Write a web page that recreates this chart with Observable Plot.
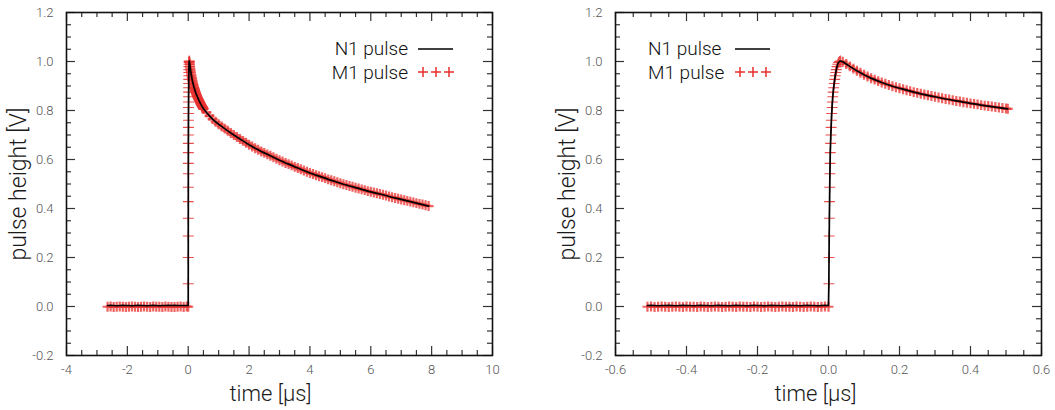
<!DOCTYPE html>
<html>
<head>
<meta charset="utf-8">
<script src="https://cdn.jsdelivr.net/npm/d3@7"></script>
<script src="https://cdn.jsdelivr.net/npm/@observablehq/plot@0.6"></script>
<style>
  body { margin: 0; background: #fff; }
  #wrap { position: relative; width: 1055px; height: 410px; display: flex; font-family: Roboto, "Liberation Sans", sans-serif; }
  #wrap > svg.leg { position: absolute; left: 0; top: 0; pointer-events: none; }
</style>
</head>
<body>
<div id="wrap"></div>
<script>
// ---------------- data (time in µs, pulse height in V) ----------------
// baseline before the pulse: N1 (black line) and M1 (red markers)
const baseT = [-2.65,-2.55,-2.45,-2.35,-2.25,-2.15,-2.05,-1.95,-1.85,-1.75,-1.65,-1.55,-1.45,-1.35,-1.25,-1.15,-1.05,-0.95,-0.85,-0.75,-0.65,-0.55,
  -0.51,-0.50,-0.49,-0.48,-0.47,-0.46,-0.45,-0.44,-0.43,-0.42,-0.41,-0.40,-0.39,-0.38,-0.37,-0.36,-0.35,-0.34,-0.33,-0.32,-0.31,-0.30,
  -0.29,-0.28,-0.27,-0.26,-0.25,-0.24,-0.23,-0.22,-0.21,-0.20,-0.19,-0.18,-0.17,-0.16,-0.15,-0.14,-0.13,-0.12,-0.11,-0.10,
  -0.09,-0.08,-0.07,-0.06,-0.05,-0.04,-0.03,-0.02,-0.01,0.00];
const baseN1 = [0.004,0.005,0.004,0.003,0.004,0.005,0.004,0.004,0.003,0.004,0.005,0.004,0.004,0.003,0.004,0.005,0.004,0.003,0.004,0.004,0.005,0.004,
  0.004,0.005,0.004,0.003,0.004,0.004,0.005,0.004,0.003,0.004,0.005,0.004,0.004,0.003,0.004,0.005,0.004,0.004,0.003,0.004,0.005,0.004,
  0.004,0.003,0.004,0.005,0.004,0.004,0.003,0.004,0.005,0.004,0.004,0.003,0.004,0.005,0.004,0.004,0.003,0.004,0.005,0.004,
  0.004,0.003,0.004,0.005,0.004,0.004,0.003,0.004,0.005,0.004];
const baseM1 = [-0.001,0.000,-0.002,-0.001,0.000,-0.001,-0.002,-0.001,0.000,-0.001,-0.002,-0.001,0.000,-0.001,-0.002,0.000,-0.001,-0.001,-0.002,0.000,-0.001,-0.002,
  -0.001,0.000,-0.002,-0.001,0.000,-0.001,-0.002,-0.001,0.000,-0.001,-0.002,0.000,-0.001,-0.001,-0.002,0.000,-0.001,-0.002,-0.001,0.000,-0.001,-0.002,
  -0.001,0.000,-0.001,-0.002,0.000,-0.001,-0.001,-0.002,0.000,-0.001,-0.002,-0.001,0.000,-0.001,-0.002,-0.001,0.000,-0.001,-0.001,-0.002,
  0.000,-0.001,-0.002,-0.001,0.000,-0.001,-0.002,-0.001,0.000,-0.001];
// leading edge (both pulses coincide)
const riseT = [0.0010,0.0015,0.0020,0.0025,0.0030,0.0035,0.0040,0.0045,0.0050,0.0058,0.0066,0.0074,0.0082,0.0090,0.0100,
  0.0110,0.0120,0.0132,0.0145,0.0160,0.0175,0.0190,0.0205,0.0220,0.0240,0.0260,0.0285,0.0310,0.0340];
const riseV = [0.093,0.200,0.288,0.360,0.428,0.487,0.542,0.584,0.628,0.666,0.700,0.731,0.760,0.788,0.812,
  0.835,0.856,0.875,0.893,0.910,0.927,0.942,0.955,0.967,0.979,0.989,0.996,1.000,1.002];
// tail (both pulses coincide)
const decayT = [0.04,0.05,0.06,0.07,0.08,0.09,0.10,0.11,0.12,0.13,0.14,0.15,0.16,0.17,0.18,0.19,0.20,0.21,0.22,0.23,0.24,0.25,
  0.26,0.27,0.28,0.29,0.30,0.31,0.32,0.33,0.34,0.35,0.36,0.37,0.38,0.39,0.40,0.41,0.42,0.43,0.44,0.45,0.46,0.47,0.48,0.49,0.50,0.505,
  0.6,0.7,0.8,0.9,1.0,1.1,1.2,1.3,1.4,1.5,1.6,1.7,1.8,1.9,2.0,2.1,2.2,2.3,2.4,2.5,2.6,2.7,2.8,2.9,3.0,3.1,3.2,3.3,3.4,3.5,3.6,3.7,3.8,3.9,
  4.0,4.1,4.2,4.3,4.4,4.5,4.6,4.7,4.8,4.9,5.0,5.1,5.2,5.3,5.4,5.5,5.6,5.7,5.8,5.9,6.0,6.1,6.2,6.3,6.4,6.5,6.6,6.7,6.8,6.9,
  7.0,7.1,7.2,7.3,7.4,7.5,7.6,7.7,7.8,7.9];
const decayV = [0.999,0.990,0.980,0.971,0.962,0.954,0.946,0.939,0.932,0.926,0.920,0.914,0.909,0.904,0.899,0.895,0.891,0.887,0.883,0.879,0.875,0.872,
  0.868,0.865,0.862,0.859,0.856,0.853,0.850,0.847,0.845,0.842,0.839,0.837,0.834,0.832,0.829,0.827,0.825,0.822,0.820,0.818,0.816,0.814,0.812,0.810,0.808,0.807,
  0.792,0.778,0.765,0.754,0.744,0.735,0.726,0.717,0.708,0.700,0.692,0.684,0.676,0.668,0.660,0.653,0.646,0.640,0.633,0.627,0.621,0.615,0.609,0.603,
  0.597,0.592,0.586,0.581,0.576,0.570,0.565,0.560,0.555,0.550,0.545,0.541,0.536,0.532,0.528,0.524,0.519,0.515,0.511,0.507,
  0.503,0.499,0.496,0.492,0.489,0.485,0.482,0.478,0.475,0.471,0.468,0.465,0.462,0.459,0.456,0.453,0.449,0.446,0.443,0.440,
  0.437,0.434,0.431,0.428,0.425,0.422,0.419,0.416,0.413,0.410];

// axes
const yMajor = [-0.2,0,0.2,0.4,0.6,0.8,1.0,1.2];
const yMinor = [-0.15,-0.1,-0.05,0.05,0.1,0.15,0.25,0.3,0.35,0.45,0.5,0.55,0.65,0.7,0.75,0.85,0.9,0.95,1.05,1.1,1.15];
const leftXMajor = [-4,-2,0,2,4,6,8,10];
const leftXMinor = [-3.5,-3,-2.5,-1.5,-1,-0.5,0.5,1,1.5,2.5,3,3.5,4.5,5,5.5,6.5,7,7.5,8.5,9,9.5];
const rightXMajor = [-0.6,-0.4,-0.2,0,0.2,0.4,0.6];
const rightXMinor = [-0.55,-0.5,-0.45,-0.35,-0.3,-0.25,-0.15,-0.1,-0.05,0.05,0.1,0.15,0.25,0.3,0.35,0.45,0.5,0.55];
const xTitle = "time [µs]";
const yTitle = "pulse height [V]";
const seriesNames = ["N1 pulse", "M1 pulse"];

// table built from the arrays
const rows = [];
baseT.forEach((t, i) => rows.push({t, n1: baseN1[i], m1: baseM1[i], part: "base"}));
riseT.forEach((t, i) => rows.push({t, n1: riseV[i], m1: riseV[i], part: "rise"}));
decayT.forEach((t, i) => rows.push({t, n1: decayV[i], m1: decayV[i], part: "tail"}));

// the wide view uses the baseline on its coarse (0.1 µs) grid only
const coarse = d => d.part !== "base" || d.t < -0.52 || d.t === 0 || Math.abs(Math.round(d.t * 100)) % 10 === 5;

const H = 410, MT = 12, MB = 55;
const RED = "#e8302e";
const FONT = "Roboto, 'Liberation Sans', sans-serif";

function panel({width, ml, mr, xDomain, xMajor, xMinor, xFmt, keep, titleDx}) {
  const data = rows.filter(keep);
  const dense = data.filter(d => d.part !== "rise");
  const edge = data.filter(d => d.part === "rise");
  const iw = width - ml - mr, ih = H - MT - MB;
  const maj = 9, min = 5, tk = "#333";
  return Plot.plot({
    width, height: H,
    marginLeft: ml, marginRight: mr, marginTop: MT, marginBottom: MB,
    style: {fontFamily: FONT, fontWeight: 300, color: "#222", background: "#fff"},
    x: {domain: xDomain},
    y: {domain: [-0.2, 1.2]},
    marks: [
      Plot.dot(dense, {x: "t", y: "m1", symbol: "plus", r: 3.3, fill: "none", stroke: RED, strokeWidth: 2.2, strokeOpacity: 0.75}),
      Plot.dot(edge, {x: "t", y: "m1", symbol: "plus", r: 3.6, fill: "none", stroke: RED, strokeWidth: 1.1, strokeOpacity: 0.85}),
      Plot.line(data, {x: "t", y: "n1", stroke: "#000", strokeWidth: 1.7}),
      // inward ticks on all four sides
      Plot.tickX(xMajor, {x: d => d, insetTop: ih - maj, stroke: tk, strokeWidth: 1.2}),
      Plot.tickX(xMajor, {x: d => d, insetBottom: ih - maj, stroke: tk, strokeWidth: 1.2}),
      Plot.tickX(xMinor, {x: d => d, insetTop: ih - min, stroke: tk, strokeWidth: 1.2}),
      Plot.tickX(xMinor, {x: d => d, insetBottom: ih - min, stroke: tk, strokeWidth: 1.2}),
      Plot.tickY(yMajor, {y: d => d, insetRight: iw - maj, stroke: tk, strokeWidth: 1.2}),
      Plot.tickY(yMajor, {y: d => d, insetLeft: iw - maj, stroke: tk, strokeWidth: 1.2}),
      Plot.tickY(yMinor, {y: d => d, insetRight: iw - min, stroke: tk, strokeWidth: 1.2}),
      Plot.tickY(yMinor, {y: d => d, insetLeft: iw - min, stroke: tk, strokeWidth: 1.2}),
      Plot.frame({stroke: "#111", strokeWidth: 1.6}),
      Plot.axisX({ticks: xMajor, tickSize: 0, tickPadding: 9, tickFormat: xFmt, fontSize: 13, fill: "#555", label: null}),
      Plot.axisY({ticks: yMajor, tickSize: 0, tickPadding: 13, tickFormat: d => d.toFixed(1), fontSize: 13, fill: "#555", label: null}),
      Plot.text([xTitle], {frameAnchor: "bottom", textAnchor: "middle", lineAnchor: "middle", dx: titleDx, dy: 38, fontSize: 22, fill: "#1a1a1a"}),
      Plot.text([yTitle], {frameAnchor: "left", textAnchor: "middle", lineAnchor: "middle", dx: -48, rotate: -90, fontSize: 23, fill: "#1a1a1a"})
    ]
  });
}

const wrap = document.getElementById("wrap");
wrap.append(panel({width: 527, ml: 66, mr: 35, xDomain: [-4, 10], xMajor: leftXMajor, xMinor: leftXMinor,
  xFmt: d => String(d), keep: coarse, titleDx: -9}));
wrap.append(panel({width: 528, ml: 88, mr: 14, xDomain: [-0.6, 0.6], xMajor: rightXMajor, xMinor: rightXMinor,
  xFmt: d => d.toFixed(1), keep: d => d.t >= -0.515 && d.t <= 0.506, titleDx: -13}));

// legends (overlay)
const NS = "http://www.w3.org/2000/svg";
const leg = document.createElementNS(NS, "svg");
leg.setAttribute("class", "leg");
leg.setAttribute("width", 1055); leg.setAttribute("height", 410);
function addLegend(textX, anchor, sampleX) {
  [48, 72].forEach((y, i) => {
    const t = document.createElementNS(NS, "text");
    t.setAttribute("x", textX); t.setAttribute("y", y);
    t.setAttribute("text-anchor", anchor);
    t.setAttribute("dominant-baseline", "central");
    t.setAttribute("font-size", 19); t.setAttribute("font-weight", 300);
    t.setAttribute("font-family", FONT);
    t.setAttribute("fill", "#111");
    t.textContent = seriesNames[i];
    leg.append(t);
  });
  const l = document.createElementNS(NS, "line");
  l.setAttribute("x1", sampleX); l.setAttribute("x2", sampleX + 35);
  l.setAttribute("y1", 49); l.setAttribute("y2", 49);
  l.setAttribute("stroke", "#000"); l.setAttribute("stroke-width", 1.5);
  leg.append(l);
  [5, 18, 31].forEach(o => {
    const p = document.createElementNS(NS, "path");
    const cx = sampleX + o, cy = 72;
    p.setAttribute("d", `M${cx-5},${cy}H${cx+5}M${cx},${cy-5}V${cy+5}`);
    p.setAttribute("stroke", RED); p.setAttribute("stroke-width", 1.5);
    leg.append(p);
  });
}
addLegend(408, "end", 418);
addLegend(648, "start", 735);
wrap.append(leg);
</script>
</body>
</html>
